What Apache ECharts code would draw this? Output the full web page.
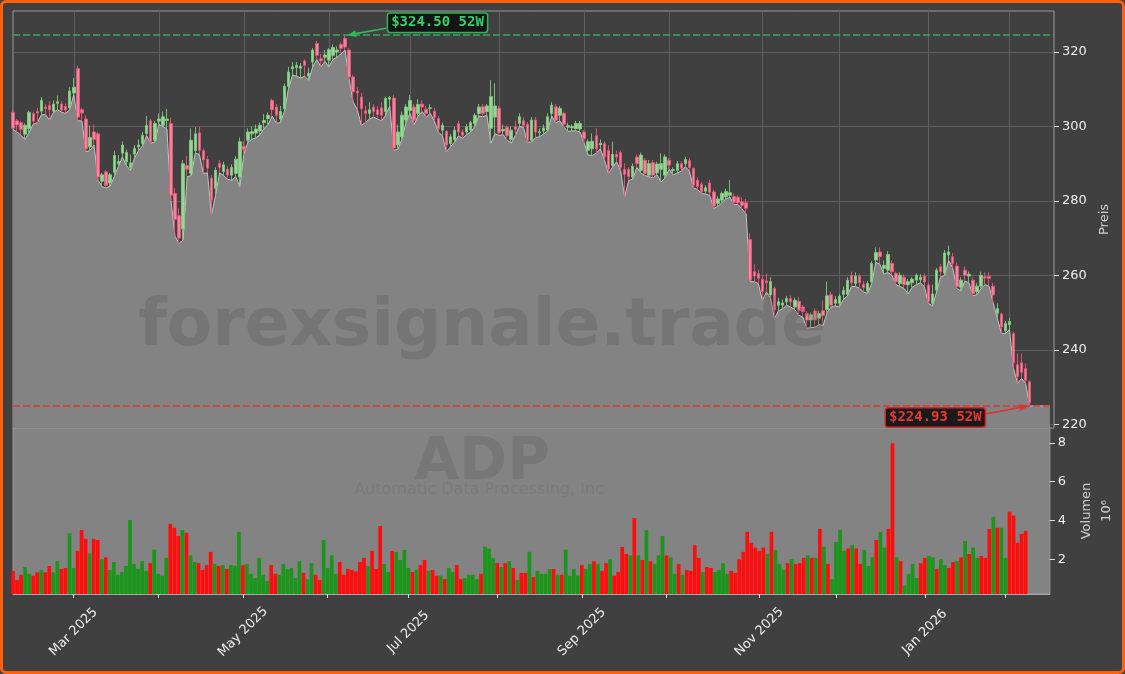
<!DOCTYPE html>
<html>
<head>
<meta charset="utf-8">
<script src="https://cdn.jsdelivr.net/npm/echarts@6/dist/echarts.min.js"></script>
<style>
  html, body { margin: 0; padding: 0; background: #404040; }
  #wrap { position: relative; width: 1125px; height: 674px; }
  #myChart { width: 1125px; height: 674px; }
  #frame {
    position: absolute; left: 0; top: 0; width: 1125px; height: 674px;
    box-sizing: border-box; border: 3px solid #ff6010; border-radius: 6px;
    pointer-events: none;
  }
</style>
</head>
<body>
<div id="wrap">
  <div id="myChart"></div>
  <div id="frame"></div>
</div>
<script>
// daily candles, [open, close, low, high]
const ohlc = [
  [303.8, 299.5, 299.2, 304.5], [301.5, 300.4, 298.5, 302.0], [301.0, 299.2, 297.6, 301.5], [297.9, 300.3, 296.5, 300.8], [299.4, 303.8, 298.5, 304.2],
  [303.4, 301.4, 300.6, 304.0], [304.0, 303.6, 301.0, 305.0], [304.1, 307.0, 303.1, 307.9], [305.2, 304.8, 303.2, 306.0], [305.6, 304.5, 301.7, 306.8],
  // 10
  [304.1, 306.0, 303.8, 307.0], [306.2, 306.6, 304.5, 308.3], [306.0, 304.4, 303.8, 306.8], [305.4, 304.4, 303.5, 306.2], [305.0, 309.5, 304.5, 310.5],
  [309.0, 310.5, 308.5, 313.0], [315.5, 302.5, 301.5, 316.3], [304.5, 303.6, 301.5, 305.0], [302.0, 294.0, 293.2, 303.0], [294.5, 297.0, 293.5, 300.3],
  // 20
  [298.5, 296.5, 295.0, 300.5], [298.0, 286.4, 285.5, 298.5], [285.3, 287.0, 283.8, 287.5], [287.8, 284.2, 283.5, 288.2], [284.8, 287.0, 284.0, 287.5],
  [287.7, 292.2, 286.5, 293.5], [290.0, 290.6, 289.2, 292.3], [292.8, 295.0, 291.8, 296.0], [290.5, 293.0, 289.5, 293.8], [289.0, 290.2, 288.2, 292.5],
  // 30
  [292.6, 294.1, 291.5, 295.0], [294.5, 295.0, 293.5, 296.5], [295.4, 297.6, 294.8, 298.5], [298.1, 300.3, 297.5, 302.8], [301.5, 295.9, 295.5, 302.0],
  [296.3, 300.8, 295.8, 301.5], [301.4, 302.0, 300.5, 303.5], [300.3, 302.6, 300.0, 304.0], [301.6, 302.0, 299.3, 304.7], [300.8, 281.5, 280.0, 302.3],
  // 40
  [282.0, 275.0, 270.5, 283.5], [276.0, 270.0, 268.6, 278.0], [272.5, 290.0, 269.5, 291.0], [289.5, 288.5, 286.5, 292.0], [287.4, 296.3, 286.8, 299.5],
  [293.5, 298.0, 292.8, 299.8], [298.3, 293.6, 292.5, 300.0], [293.5, 291.0, 287.4, 294.0], [291.2, 288.8, 287.5, 292.0], [286.1, 280.2, 276.2, 287.0],
  // 50
  [283.4, 288.2, 281.5, 289.0], [290.1, 289.0, 287.5, 291.0], [287.9, 289.7, 286.8, 290.5], [288.5, 286.9, 285.8, 289.3], [286.9, 289.0, 285.5, 289.8],
  [287.4, 291.2, 286.5, 292.0], [286.4, 295.9, 283.8, 297.0], [294.6, 293.8, 292.5, 296.0], [296.3, 298.5, 295.8, 299.5], [298.0, 298.6, 296.5, 300.0],
  // 60
  [298.2, 299.3, 297.0, 300.5], [298.8, 300.3, 297.8, 301.0], [301.0, 301.6, 299.5, 303.3], [302.1, 303.0, 300.5, 303.8], [307.0, 304.5, 302.8, 307.5],
  [305.2, 303.0, 300.9, 306.0], [302.0, 304.0, 301.0, 305.5], [304.8, 310.8, 304.0, 311.5], [310.8, 314.6, 310.0, 316.0], [315.5, 316.0, 313.8, 317.3],
  // 70
  [315.8, 316.4, 313.5, 317.3], [315.6, 316.2, 313.0, 317.0], [317.6, 316.4, 313.5, 318.0], [313.5, 314.3, 312.4, 315.8], [317.3, 320.5, 316.0, 321.0],
  [322.3, 319.1, 318.0, 323.0], [318.2, 317.6, 316.0, 319.5], [318.6, 319.2, 317.5, 320.5], [317.8, 320.6, 316.0, 321.0], [319.1, 321.2, 318.0, 322.0],
  // 80
  [320.0, 320.5, 318.6, 321.5], [322.0, 320.9, 319.5, 322.5], [323.6, 321.3, 320.5, 324.5], [320.5, 313.3, 312.5, 321.0], [313.3, 309.3, 306.5, 313.8],
  [309.5, 309.0, 304.5, 310.5], [307.9, 304.8, 300.3, 309.0], [304.2, 303.5, 301.0, 305.5], [303.5, 304.5, 302.0, 306.5], [305.2, 304.0, 302.5, 306.0],
  // 90
  [304.5, 303.2, 302.0, 305.5], [305.0, 303.0, 301.5, 306.5], [304.0, 307.5, 303.0, 308.0], [307.3, 307.8, 305.5, 308.2], [307.6, 294.2, 293.6, 308.5],
  [295.0, 298.5, 293.8, 300.5], [297.2, 303.0, 296.5, 304.0], [301.7, 305.2, 301.0, 306.0], [304.3, 307.0, 303.5, 308.4], [305.2, 301.7, 300.5, 306.0],
  // 100
  [303.5, 305.9, 302.8, 307.3], [306.0, 305.2, 304.0, 307.0], [304.6, 303.5, 302.5, 305.5], [304.8, 305.0, 303.5, 306.0], [304.1, 302.4, 301.5, 305.0],
  [302.1, 299.4, 298.5, 302.8], [299.0, 300.3, 297.5, 301.0], [298.7, 295.0, 293.2, 299.0], [295.4, 297.2, 294.5, 298.0], [296.5, 299.0, 295.8, 299.8],
  // 110
  [300.8, 298.5, 297.5, 301.5], [298.5, 297.6, 296.8, 299.2], [298.5, 299.9, 297.8, 300.6], [299.0, 301.0, 298.5, 301.5], [300.8, 303.0, 300.0, 303.5],
  [303.5, 305.2, 302.8, 306.0], [305.3, 303.5, 302.6, 306.0], [304.0, 305.5, 303.0, 306.0], [299.5, 308.0, 295.5, 312.4], [302.5, 305.5, 298.1, 311.6],
  // 120
  [304.9, 298.4, 297.5, 305.5], [298.8, 299.2, 297.8, 300.5], [299.8, 297.5, 296.3, 300.3], [296.5, 299.0, 295.5, 300.0], [300.0, 299.2, 297.5, 301.5],
  [300.8, 302.6, 300.0, 303.5], [301.5, 300.3, 299.8, 302.5], [300.6, 296.3, 295.8, 301.2], [296.3, 301.7, 295.8, 302.5], [301.7, 298.5, 297.0, 302.5],
  // 130
  [298.3, 298.6, 297.2, 299.5], [298.8, 299.6, 298.0, 300.5], [299.0, 302.6, 298.8, 303.5], [303.5, 305.7, 302.8, 306.5], [305.2, 301.7, 301.0, 306.0],
  [303.0, 304.8, 301.5, 305.5], [303.5, 300.6, 299.8, 304.0], [299.8, 300.2, 298.7, 301.0], [299.6, 300.0, 298.8, 300.5], [299.4, 300.8, 298.8, 301.5],
  // 140
  [299.3, 300.8, 298.5, 301.5], [298.5, 296.7, 295.5, 299.0], [293.6, 295.9, 292.3, 296.5], [294.0, 296.0, 292.2, 298.1], [297.5, 294.0, 292.8, 299.5],
  [295.0, 295.5, 294.0, 296.5], [295.4, 291.8, 291.0, 296.0], [293.5, 288.5, 287.4, 295.0], [289.5, 292.5, 289.0, 295.9], [292.5, 291.8, 290.5, 293.5],
  // 150
  [293.0, 289.0, 288.2, 293.5], [288.5, 287.1, 281.0, 290.1], [288.5, 286.5, 285.5, 289.0], [286.4, 289.3, 285.8, 290.0], [291.8, 290.0, 289.0, 292.5],
  [288.2, 292.3, 287.5, 293.0], [290.9, 287.4, 286.8, 291.5], [286.9, 290.0, 286.5, 291.0], [290.3, 286.9, 286.2, 291.0], [287.5, 289.9, 287.0, 290.5],
  // 160
  [288.5, 290.0, 285.1, 292.8], [286.9, 291.8, 286.2, 292.5], [290.9, 289.6, 288.5, 291.5], [288.1, 288.4, 287.0, 289.0], [288.2, 290.0, 287.5, 290.8],
  [290.0, 288.7, 288.0, 290.6], [290.0, 291.1, 289.2, 291.8], [290.8, 289.0, 288.0, 291.5], [288.7, 284.2, 283.5, 289.0], [285.6, 283.8, 283.0, 286.3],
  // 170
  [284.5, 282.4, 282.0, 285.1], [282.6, 283.5, 281.8, 284.2], [284.8, 282.3, 281.5, 285.6], [282.4, 278.6, 278.0, 283.0], [279.3, 280.5, 278.5, 281.3],
  [280.2, 282.0, 279.5, 282.5], [281.1, 282.5, 280.5, 283.3], [281.5, 282.2, 281.0, 285.6], [281.2, 279.6, 279.0, 282.0], [281.0, 279.5, 279.0, 281.5],
  // 180
  [279.8, 278.8, 277.8, 281.0], [279.5, 278.0, 276.5, 280.5], [269.6, 258.7, 258.3, 271.3], [261.0, 259.8, 258.3, 263.0], [260.5, 259.2, 257.8, 261.5],
  [258.9, 255.6, 253.3, 260.0], [258.5, 258.0, 255.5, 260.5], [254.7, 258.3, 254.0, 259.5], [256.5, 250.7, 248.4, 257.0], [252.0, 252.9, 250.5, 254.0],
  // 190
  [252.0, 252.6, 251.0, 253.5], [252.9, 253.8, 252.0, 254.5], [253.8, 252.9, 251.5, 254.6], [251.5, 253.3, 250.8, 254.0], [253.0, 250.5, 249.3, 254.2],
  [251.5, 250.2, 248.8, 252.0], [249.8, 248.0, 245.8, 250.5], [248.0, 249.4, 246.0, 250.0], [250.4, 248.0, 246.0, 251.0], [248.5, 249.7, 246.8, 250.5],
  // 200
  [250.5, 249.2, 246.5, 253.3], [250.8, 254.5, 250.0, 258.3], [254.8, 252.0, 251.5, 255.6], [252.5, 253.5, 251.8, 254.4], [252.5, 254.4, 251.5, 255.0],
  [254.9, 256.0, 253.5, 257.0], [254.9, 258.7, 254.5, 259.5], [260.0, 258.0, 257.0, 261.0], [257.8, 259.8, 257.0, 260.8], [259.8, 258.0, 256.5, 260.5],
  // 210
  [257.6, 256.7, 255.5, 258.5], [255.8, 257.8, 255.2, 258.5], [258.3, 263.2, 257.8, 263.8], [264.1, 266.1, 263.5, 267.5], [266.3, 265.0, 263.0, 267.5],
  [261.9, 262.7, 260.3, 264.0], [261.4, 265.6, 260.8, 266.5], [263.2, 261.0, 260.0, 264.0], [260.5, 258.3, 257.5, 261.0], [257.8, 260.0, 257.0, 260.8],
  // 220
  [259.5, 257.5, 256.5, 260.3], [257.5, 258.3, 255.0, 259.0], [258.0, 259.0, 256.8, 259.5], [258.7, 260.0, 257.5, 260.5], [258.8, 259.5, 258.0, 260.3],
  [259.8, 258.2, 257.0, 260.5], [257.4, 253.0, 252.5, 258.0], [252.5, 255.0, 251.8, 257.5], [256.0, 261.4, 255.5, 262.0], [262.3, 261.0, 259.5, 263.0],
  // 230
  [260.6, 266.0, 260.0, 266.8], [265.5, 266.3, 264.0, 268.0], [265.0, 263.2, 262.0, 266.0], [262.5, 257.0, 256.5, 263.5], [256.8, 258.7, 255.8, 259.5],
  [261.4, 260.0, 258.5, 262.3], [259.8, 260.3, 258.0, 261.0], [258.7, 255.1, 254.5, 259.5], [255.6, 257.1, 254.8, 258.0], [257.1, 260.0, 256.5, 261.0],
  // 240
  [259.6, 259.3, 257.5, 260.8], [259.7, 259.2, 257.0, 260.8], [257.1, 254.7, 252.5, 258.0], [249.8, 251.1, 248.5, 252.5], [249.6, 246.2, 244.5, 250.0],
  [245.1, 247.1, 244.3, 247.8], [246.7, 247.6, 245.5, 248.6], [244.4, 236.5, 235.0, 244.8], [236.0, 232.8, 231.0, 239.0], [236.5, 234.0, 232.3, 239.0],
  // 250
  [235.0, 231.8, 231.0, 236.3], [231.4, 225.8, 224.93, 231.8]
];

// volume in millions of shares
const volumes = [
  1.4, 0.93, 1.2, 1.6, 1.25, 1.15, 1.33, 1.45, 1.33, 1.65,
  1.33, 1.9, 1.5, 1.55, 3.34, 1.55, 2.43, 3.51, 3.05, 2.3,
  3.05, 2.99, 2.0, 2.1, 1.45, 1.86, 1.2, 1.34, 1.65, 4.02,
  1.76, 1.5, 1.9, 1.4, 1.8, 2.5, 1.25, 1.15, 2.07, 3.82,
  3.62, 3.2, 3.51, 3.36, 2.2, 1.86, 1.8, 1.45, 1.7, 2.38,
  1.76, 1.65, 1.7, 1.5, 1.7, 1.67, 3.41, 1.7, 1.76, 1.25,
  1.03, 2.07, 1.2, 0.88, 1.7, 1.25, 1.2, 1.76, 1.5, 1.55,
  1.03, 1.9, 1.3, 0.98, 1.8, 1.2, 0.93, 2.99, 1.55, 2.2,
  1.25, 1.86, 1.2, 1.5, 1.45, 1.37, 1.86, 2.07, 1.65, 2.43,
  1.5, 3.71, 1.76, 1.34, 2.43, 2.38, 1.96, 2.48, 1.55, 1.34,
  1.45, 1.7, 1.96, 1.4, 1.45, 1.15, 1.15, 0.98, 1.55, 1.34,
  1.7, 0.98, 1.03, 1.2, 1.2, 0.98, 1.25, 2.65, 2.55, 2.07,
  1.8, 1.6, 1.8, 1.9, 1.55, 0.93, 1.3, 1.3, 2.38, 1.08,
  1.4, 1.25, 1.25, 1.5, 1.5, 1.2, 1.2, 2.5, 1.15, 1.5,
  1.15, 1.7, 1.5, 1.76, 1.9, 1.76, 1.4, 1.8, 2.0, 1.15,
  1.34, 2.63, 2.28, 2.2, 4.12, 2.2, 1.96, 3.51, 1.9, 1.76,
  2.2, 3.2, 2.2, 2.1, 1.25, 1.76, 1.2, 1.45, 1.4, 2.73,
  2.07, 1.34, 1.6, 1.55, 1.34, 1.45, 1.8, 1.25, 1.4, 1.3,
  2.0, 2.38, 3.41, 2.85, 2.6, 2.43, 2.6, 2.27, 3.41, 2.48,
  1.76, 1.45, 1.8, 2.0, 1.76, 1.8, 2.07, 2.2, 2.07, 2.07,
  3.56, 2.65, 1.76, 0.98, 2.89, 3.51, 2.43, 2.55, 2.73, 2.55,
  1.76, 2.48, 1.65, 2.1, 2.99, 3.41, 2.6, 3.56, 7.98, 2.1,
  1.9, 0.64, 1.25, 1.76, 1.03, 1.8, 2.07, 2.17, 2.1, 1.5,
  2.0, 1.7, 1.55, 1.86, 1.9, 2.1, 2.94, 2.27, 2.6, 2.07,
  2.17, 2.07, 3.56, 4.18, 3.62, 3.62, 2.07, 4.45, 4.25, 2.85,
  3.31, 3.46
];

const priceTicks = [220, 240, 260, 280, 300, 320];
const volumeTicks = [2, 4, 6, 8];
const monthNames = ["Jan", "Feb", "Mar", "Apr", "May", "Jun", "Jul", "Aug", "Sep", "Oct", "Nov", "Dec"];
const holidays = ["2025-02-17", "2025-04-18", "2025-05-26", "2025-06-19", "2025-07-04", "2025-09-01",
  "2025-11-27", "2025-12-25", "2026-01-01", "2026-01-19", "2026-02-16"];

// trading days from the first candle, plus a few empty slots at the right edge
function tradingDays(start, count) {
  const out = [];
  const d = new Date(start + "T00:00:00Z");
  while (out.length < count) {
    const wd = d.getUTCDay();
    const iso = d.toISOString().slice(0, 10);
    if (wd !== 0 && wd !== 6 && holidays.indexOf(iso) < 0) out.push(iso);
    d.setUTCDate(d.getUTCDate() + 1);
  }
  return out;
}
const extraSlots = 6;
const dates = tradingDays("2025-02-07", ohlc.length + extraSlots);

function monthStart(i) {
  return i > 0 && dates[i].slice(5, 7) !== dates[i - 1].slice(5, 7);
}
function labelMonth(i) {
  return monthStart(i) && Number(dates[i].slice(5, 7)) % 2 === 1;
}

const lows = ohlc.map(r => r[2]);
const highs = ohlc.map(r => r[3]);
const hiVal = Math.max.apply(null, highs);
const loVal = Math.min.apply(null, lows);
const hiIdx = highs.indexOf(hiVal);
const loIdx = lows.indexOf(loVal);
// the filled low line runs on flat a little past the last candle
const areaData = lows.concat([loVal, loVal, loVal, loVal, loVal]);

const FONT = "DejaVu Sans";
const upVol = "#1a961a";
const downVol = "#ff0d0d";

let myChart = echarts.init(document.getElementById("myChart"));

let option = {
  backgroundColor: "#404040",
  animation: false,
  textStyle: { fontFamily: FONT },
  grid: [
    { left: 13, right: 71, top: 11, height: 417, show: true, borderColor: "#9a9a9a", borderWidth: 1, backgroundColor: "transparent" },
    { left: 13, right: 71, top: 428, height: 166, show: true, borderColor: "#9a9a9a", borderWidth: 1, backgroundColor: "#838383" }
  ],
  xAxis: [
    {
      type: "category",
      gridIndex: 0,
      data: dates,
      boundaryGap: false,
      axisLine: { show: false },
      axisTick: { show: false },
      axisLabel: { show: false },
      splitLine: {
        show: true,
        interval: (i) => monthStart(i),
        lineStyle: { color: "#5f5f5f", width: 1 }
      }
    },
    {
      type: "category",
      gridIndex: 1,
      data: dates,
      boundaryGap: false,
      axisLine: { show: true, lineStyle: { color: "#a8a8a8" } },
      axisTick: {
        show: true,
        interval: (i) => monthStart(i),
        length: 4,
        lineStyle: { color: "#e0e0e0" }
      },
      axisLabel: {
        interval: (i) => labelMonth(i),
        formatter: (v) => monthNames[Number(v.slice(5, 7)) - 1] + " " + v.slice(0, 4),
        rotate: 45,
        align: "center",
        verticalAlign: "middle",
        margin: 38,
        color: "#eeeeee",
        fontSize: 13,
        fontFamily: FONT
      },
      splitLine: { show: false }
    }
  ],
  yAxis: [
    {
      type: "value",
      gridIndex: 0,
      position: "right",
      min: 219,
      max: 331,
      axisLine: { show: false },
      axisTick: { show: true, length: 5, customValues: priceTicks, lineStyle: { color: "#e0e0e0" } },
      axisLabel: { customValues: priceTicks, margin: 8, color: "#eeeeee", fontSize: 13, fontFamily: FONT },
      splitLine: { show: true, lineStyle: { color: "#5f5f5f", width: 1 } },
      name: "Preis",
      nameLocation: "middle",
      nameRotate: 90,
      nameGap: 43,
      nameTextStyle: { color: "#d0d0d0", fontSize: 13, fontFamily: FONT }
    },
    {
      type: "value",
      gridIndex: 1,
      position: "right",
      min: 0.21,
      max: 8.76,
      axisLine: { show: false },
      axisTick: { show: true, length: 5, customValues: volumeTicks, lineStyle: { color: "#e0e0e0" } },
      axisLabel: { customValues: volumeTicks, margin: 8, color: "#eeeeee", fontSize: 13, fontFamily: FONT },
      splitLine: { show: false },
      name: "Volumen\n10\u2076",
      nameLocation: "middle",
      nameRotate: 90,
      nameGap: 27,
      nameTextStyle: { color: "#d0d0d0", fontSize: 13, lineHeight: 20, fontFamily: FONT }
    }
  ],
  series: [
    {
      name: "Low",
      type: "line",
      xAxisIndex: 0,
      yAxisIndex: 0,
      data: areaData,
      showSymbol: false,
      z: 1,
      lineStyle: { color: "#c4c4c4", width: 1 },
      areaStyle: { color: "#838383", opacity: 1, origin: "start" }
    },
    {
      name: "ADP",
      type: "candlestick",
      xAxisIndex: 0,
      yAxisIndex: 0,
      data: ohlc,
      barWidth: 3,
      z: 3,
      itemStyle: {
        color: "#a4e2a4",
        color0: "#ff8eaa",
        borderColor: "#7ccc7c",
        borderColor0: "#ea5478",
        borderWidth: 1,
        opacity: 0.9
      },
      markLine: {
        silent: true,
        symbol: ["none", "none"],
        label: { show: false },
        data: [
          { yAxis: hiVal, lineStyle: { color: "#37a85a", type: [7, 3], width: 1.6 } },
          { yAxis: loVal, lineStyle: { color: "#d83a3a", type: [7, 3], width: 1.6 } }
        ]
      }
    },
    {
      name: "Volumen",
      type: "bar",
      xAxisIndex: 1,
      yAxisIndex: 1,
      data: volumes,
      barCategoryGap: "8%",
      itemStyle: {
        color: (p) => (ohlc[p.dataIndex][1] >= ohlc[p.dataIndex][0] ? upVol : downVol)
      }
    }
  ]
};
myChart.setOption(option);

// 52W annotations, placed off the data points
function arrow(from, to, color) {
  const ang = Math.atan2(to[1] - from[1], to[0] - from[0]);
  const len = 9, half = 3.5;
  const bx = to[0] - len * Math.cos(ang), by = to[1] - len * Math.sin(ang);
  const px = -Math.sin(ang) * half, py = Math.cos(ang) * half;
  return [
    { type: "line", z: 100, shape: { x1: from[0], y1: from[1], x2: bx, y2: by }, style: { stroke: color, lineWidth: 1.6 } },
    { type: "polygon", z: 100, shape: { points: [[to[0], to[1]], [bx + px, by + py], [bx - px, by - py]] }, style: { fill: color } }
  ];
}

const hiPx = myChart.convertToPixel({ gridIndex: 0 }, [hiIdx, hiVal]);
const loPx = myChart.convertToPixel({ gridIndex: 0 }, [loIdx, loVal]);
const tagFont = 'bold 14px "DejaVu Sans Mono"';

let graphics = [
  { type: "text", z: 5, x: 482, y: 328, silent: true,
    style: { text: "forexsignale.trade", font: 'bold 66px "DejaVu Sans"', fill: "rgba(40,40,40,0.15)", align: "center", verticalAlign: "middle" } },
  { type: "text", z: 5, x: 482, y: 464, silent: true,
    style: { text: "ADP", font: 'bold 58px "DejaVu Sans"', fill: "rgba(40,40,40,0.13)", align: "center", verticalAlign: "middle" } },
  { type: "text", z: 5, x: 479, y: 490, silent: true,
    style: { text: "Automatic Data Processing, Inc", font: '16px "DejaVu Sans"', fill: "rgba(40,40,40,0.09)", align: "center", verticalAlign: "middle" } },
  { type: "text", z: 101, x: hiPx[0] + 43, y: hiPx[1] - 12.5,
    style: { text: "$" + hiVal.toFixed(2) + " 52W", font: tagFont, fill: "#2fd16a", align: "left", verticalAlign: "middle",
      backgroundColor: "#141414", borderColor: "#2db55d", borderWidth: 1.5, borderRadius: 2, padding: [2, 3] } },
  { type: "text", z: 101, x: loPx[0] - 45, y: loPx[1] + 11.5,
    style: { text: "$" + loVal.toFixed(2) + " 52W", font: tagFont, fill: "#e83535", align: "right", verticalAlign: "middle",
      backgroundColor: "#1a1a1a", borderColor: "#d02a2a", borderWidth: 1.5, borderRadius: 2, padding: [2, 3] } }
];
graphics = graphics
  .concat(arrow([hiPx[0] + 41, hiPx[1] - 7], [hiPx[0] + 2, hiPx[1]], "#2fb85c"))
  .concat(arrow([loPx[0] - 44, loPx[1] + 8], [loPx[0] - 1, loPx[1]], "#e03030"));

myChart.setOption({ graphic: graphics });
</script>
</body>
</html>
